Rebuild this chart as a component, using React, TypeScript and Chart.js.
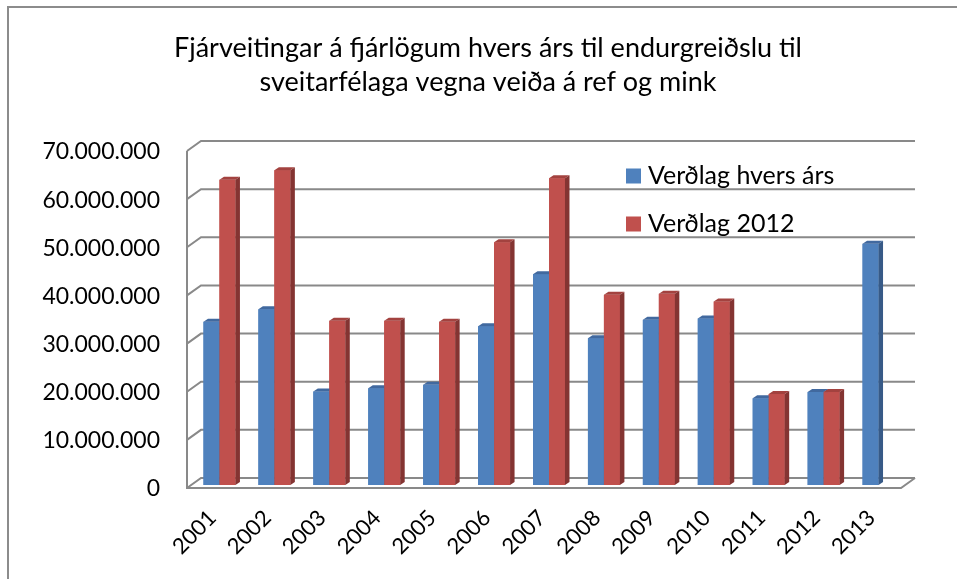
import React, { useEffect, useRef } from "react";
import { Chart, registerables } from "chart.js";

Chart.register(...registerables);

const categories = ["2001", "2002", "2003", "2004", "2005", "2006", "2007", "2008", "2009", "2010", "2011", "2012", "2013"];
const verdlagHversArs = [33900000, 36500000, 19400000, 20100000, 20800000, 33000000, 43800000, 30500000, 34300000, 34600000, 18000000, 19300000, 50100000];
const verdlag2012 = [63400000, 65400000, 34100000, 34100000, 33900000, 50400000, 63700000, 39500000, 39700000, 38100000, 18900000, 19300000, null];
const seriesNames = ["Verðlag hvers árs", "Verðlag 2012"];
const titleLines = ["Fjárveitingar á fjárlögum hvers árs til endurgreiðslu til", "sveitarfélaga vegna veiða á ref og mink"];

const FONT = "Lato, 'Open Sans', sans-serif";
const GRID = "#898989";
const FRONT = { dx: -5, dy: 3 };
const BACK = { dx: 9, dy: -7 };
const BAR_D = { dx: 4.5, dy: 3 };
const COLORS = [
  { front: "#4F81BD", top: "#41699f", side: "#375a87" },
  { front: "#C0504D", top: "#a3423f", side: "#843432" },
];

const fmt = (v: number) => String(Math.round(v)).replace(/\B(?=(\d{3})+(?!\d))/g, ".");

const decoPlugin = {
  id: "deco",
  beforeDatasetsDraw(chart: any) {
    const { ctx, chartArea: a } = chart;
    const y = chart.scales.y;
    ctx.save();
    // outer frame
    ctx.strokeStyle = "#8c8c8c";
    ctx.lineWidth = 2;
    ctx.beginPath();
    ctx.moveTo(8, 579);
    ctx.lineTo(8, 7);
    ctx.lineTo(957, 7);
    ctx.stroke();
    // title
    ctx.fillStyle = "#000";
    ctx.font = `27px ${FONT}`;
    ctx.textAlign = "center";
    ctx.textBaseline = "middle";
    ctx.fillText(titleLines[0], 488, 48);
    ctx.fillText(titleLines[1], 488, 82);
    // grid
    ctx.strokeStyle = GRID;
    ctx.lineWidth = 2;
    y.ticks.forEach((t: any) => {
      const py = y.getPixelForValue(t.value);
      ctx.beginPath();
      ctx.moveTo(a.left + FRONT.dx, py + FRONT.dy);
      ctx.lineTo(a.left + BACK.dx, py + BACK.dy);
      ctx.lineTo(a.right + BACK.dx, py + BACK.dy);
      ctx.stroke();
    });
    ctx.beginPath();
    ctx.moveTo(a.left + FRONT.dx, a.top + FRONT.dy);
    ctx.lineTo(a.left + FRONT.dx, a.bottom + FRONT.dy);
    ctx.lineTo(a.right + FRONT.dx, a.bottom + FRONT.dy);
    ctx.lineTo(a.right + BACK.dx, a.bottom + BACK.dy);
    ctx.stroke();
    ctx.restore();
  },
  afterDatasetsDraw(chart: any) {
    const { ctx } = chart;
    ctx.save();
    const n = chart.data.labels.length;
    for (let i = 0; i < n; i++) {
      chart.data.datasets.forEach((ds: any, d: number) => {
        const v = ds.data[i];
        if (v === null || v === undefined) return;
        const el = chart.getDatasetMeta(d).data[i];
        const { x, y, base, width } = el.getProps(["x", "y", "base", "width"], true);
        const l = x - width / 2;
        const r = x + width / 2;
        const c = COLORS[d];
        ctx.fillStyle = c.front;
        ctx.fillRect(l, y, width, base - y);
        ctx.fillStyle = c.top;
        ctx.beginPath();
        ctx.moveTo(l, y);
        ctx.lineTo(l + BAR_D.dx, y - BAR_D.dy);
        ctx.lineTo(r + BAR_D.dx, y - BAR_D.dy);
        ctx.lineTo(r, y);
        ctx.closePath();
        ctx.fill();
        ctx.fillStyle = c.side;
        ctx.beginPath();
        ctx.moveTo(r, y);
        ctx.lineTo(r + BAR_D.dx, y - BAR_D.dy);
        ctx.lineTo(r + BAR_D.dx, base - BAR_D.dy);
        ctx.lineTo(r, base);
        ctx.closePath();
        ctx.fill();
      });
    }
    // legend
    ctx.font = `25px ${FONT}`;
    ctx.textAlign = "left";
    ctx.textBaseline = "middle";
    seriesNames.forEach((name, d) => {
      const yy = 176 + d * 48;
      ctx.fillStyle = COLORS[d].front;
      ctx.fillRect(626, yy - 7.5, 15, 15);
      ctx.fillStyle = "#000";
      ctx.fillText(name, 648, yy);
    });
    ctx.restore();
  },
};

export default function App() {
  const ref = useRef<HTMLCanvasElement>(null);
  useEffect(() => {
    if (!ref.current) return;
    const chart = new Chart(ref.current, {
      type: "bar",
      data: {
        labels: categories,
        datasets: [
          { label: seriesNames[0], data: verdlagHversArs, backgroundColor: COLORS[0].front, categoryPercentage: 0.582, barPercentage: 1 },
          { label: seriesNames[1], data: verdlag2012, backgroundColor: COLORS[1].front, categoryPercentage: 0.582, barPercentage: 1 },
        ],
      },
      options: {
        animation: false,
        responsive: false,
        layout: { padding: { top: 148, right: 51, left: 0, bottom: 0 } },
        plugins: { legend: { display: false }, tooltip: { enabled: false }, title: { display: false } },
        scales: {
          x: {
            grid: { display: false, drawTicks: false },
            border: { display: false },
            ticks: { autoSkip: false, minRotation: 45, maxRotation: 45, padding: 20, labelOffset: -7, color: "#000", font: { family: FONT, size: 22 } },
            afterFit: (s: any) => { s.height = 94; },
          },
          y: {
            min: 0,
            max: 70000000,
            grid: { display: false, drawTicks: false },
            border: { display: false },
            ticks: { stepSize: 10000000, padding: 32, labelOffset: 4, color: "#000", font: { family: FONT, size: 23 }, callback: (v: any) => fmt(Number(v)) },
            afterFit: (s: any) => { s.width = 192; },
          },
        },
      },
      plugins: [decoPlugin],
    });
    return () => chart.destroy();
  }, []);
  return (
    <div style={{ position: "absolute", left: 0, top: 0, width: 957, height: 579, background: "#fff" }}>
      <canvas ref={ref} width={957} height={579} />
    </div>
  );
}
